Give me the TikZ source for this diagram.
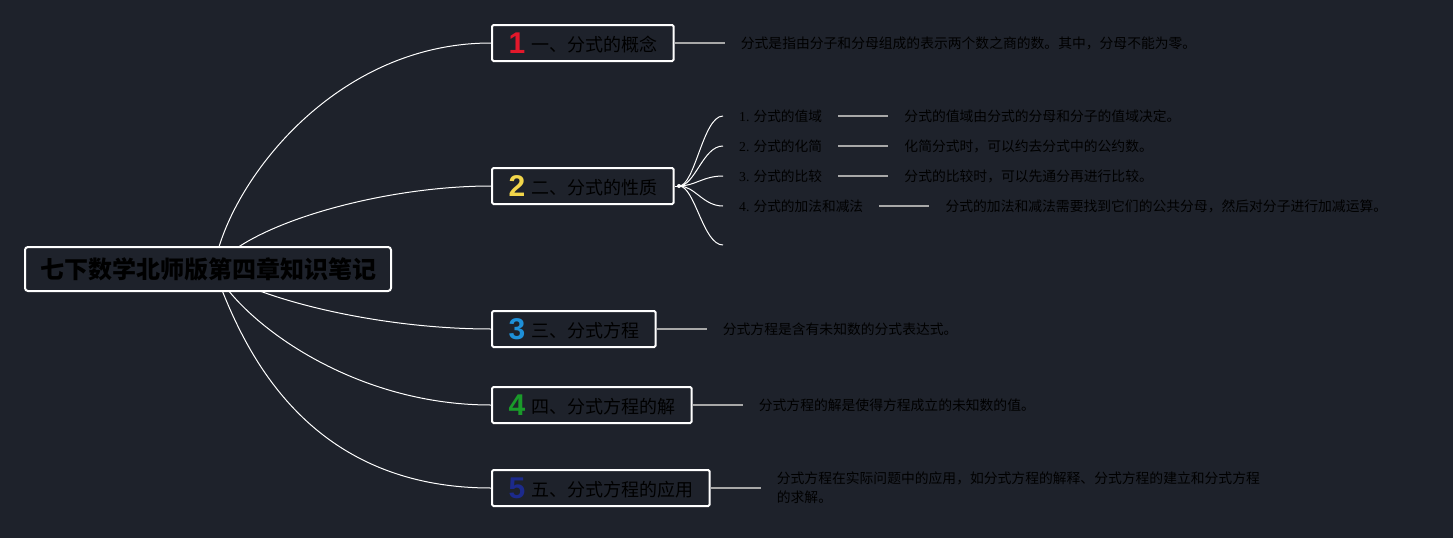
\documentclass[tikz,border=0pt]{standalone}
\usepackage{fontspec}
\setmainfont{Noto Sans CJK SC}
\newfontfamily\numfont{Liberation Sans}
\newfontfamily\serfont{Liberation Serif}
\usetikzlibrary{backgrounds,calc}
\definecolor{bg}{HTML}{1E222B}
\definecolor{numred}{HTML}{E3182B}
\definecolor{numyellow}{HTML}{F2D64B}
\definecolor{numblue}{HTML}{1E90D8}
\definecolor{numgreen}{HTML}{1A9A2A}
\definecolor{numnavy}{HTML}{1C2A8C}
\definecolor{leadgray}{HTML}{A8A8A8}
\newcommand\bignum[2]{\raisebox{-1.5pt}{\numfont\bfseries\fontsize{30}{30}\selectfont\color{#1}#2}\hspace{6pt}}
\newcommand\ser[1]{{\serfont #1}}
\tikzset{
  rootbox/.style={draw=white, line width=2pt, fill=bg, rounded corners=3pt, minimum width=366pt, minimum height=44pt, inner sep=0pt, text=black, font=\fontsize{24}{26}\selectfont\bfseries},
  topicbox/.style={draw=white, line width=2pt, fill=bg, rounded corners=1.5pt, minimum height=36pt, inner xsep=16.5pt, inner ysep=0pt, text=black, font=\fontsize{18}{20}\selectfont, anchor=west},
  conn/.style={draw=white, line width=1pt},
  lead/.style={draw=leadgray, line width=1.5pt},
  childtxt/.style={inner xsep=16pt, inner ysep=0pt, text=black, font=\fontsize{13.7}{15}\selectfont, anchor=west},
  desctxt/.style={inner xsep=16pt, inner ysep=0pt, text=black, font=\fontsize{13.8}{19}\selectfont, anchor=west, align=left},
}
\begin{document}
\begin{tikzpicture}[x=1pt,y=-1pt]
\useasboundingbox (0,0) rectangle (1453,538);
\begin{scope}[on background layer]
\fill[bg] (0,0) rectangle (1453,538);
\end{scope}

% root and topics
\node[rootbox] (root) at (208,269) {七下数学北师版第四章知识笔记};
\coordinate (hub) at (214,269);
\node[topicbox] (b1) at (491,43) {\bignum{numred}{1}一、分式的概念};
\node[topicbox] (b2) at (491,186) {\bignum{numyellow}{2}二、分式的性质};
\node[topicbox] (b3) at (491,329) {\bignum{numblue}{3}三、分式方程};
\node[topicbox] (b4) at (491,405) {\bignum{numgreen}{4}四、分式方程的解};
\node[topicbox] (b5) at (491,488) {\bignum{numnavy}{5}五、分式方程的应用};

\begin{scope}[on background layer]
\draw[conn] (hub) .. controls (225,190) and (330,43) .. (b1.west);
\draw[conn] (hub) .. controls (245,225) and (380,186) .. (b2.west);
\draw[conn] (hub) .. controls (260,300) and (380,329) .. (b3.west);
\draw[conn] (hub) .. controls (240,320) and (350,405) .. (b4.west);
\draw[conn] (hub) .. controls (240,340) and (300,488) .. (b5.west);
\end{scope}

% children of topic 2
\coordinate (h2) at (679,186);
\node[childtxt] (c1) at (723,116) {\ser{1.} 分式的值域};
\node[childtxt] (c2) at (723,146) {\ser{2.} 分式的化简};
\node[childtxt] (c3) at (723,176) {\ser{3.} 分式的比较};
\node[childtxt] (c4) at (723,206) {\ser{4.} 分式的加法和减法};
\coordinate (c5) at (723,245);
\draw[conn] (b2.east) -- (h2);
\foreach \c/\y in {c1/116,c2/146,c3/176,c4/206,c5/245}{
  \draw[conn] (h2) .. controls (695,186) and (703,\y) .. (\c.west);
}
\fill[white] (h2) circle (2pt);

% descriptions of children
\node[desctxt] (d21) at ($(c1.east)+(50,0)$) {分式的值域由分式的分母和分子的值域决定。};
\node[desctxt] (d22) at ($(c2.east)+(50,0)$) {化简分式时，可以约去分式中的公约数。};
\node[desctxt] (d23) at ($(c3.east)+(50,0)$) {分式的比较时，可以先通分再进行比较。};
\node[desctxt] (d24) at ($(c4.east)+(50,0)$) {分式的加法和减法需要找到它们的公共分母，然后对分子进行加减运算。};
\draw[lead] (c1.east) -- (d21.west);
\draw[lead] (c2.east) -- (d22.west);
\draw[lead] (c3.east) -- (d23.west);
\draw[lead] (c4.east) -- (d24.west);

% descriptions of topics
\node[desctxt] (d1) at ($(b1.east)+(50,0)$) {分式是指由分子和分母组成的表示两个数之商的数。其中，分母不能为零。};
\node[desctxt] (d3) at ($(b3.east)+(50,0)$) {分式方程是含有未知数的分式表达式。};
\node[desctxt] (d4) at ($(b4.east)+(50,0)$) {分式方程的解是使得方程成立的未知数的值。};
\node[desctxt] (d5) at ($(b5.east)+(50,0)$) {分式方程在实际问题中的应用，如分式方程的解释、分式方程的建立和分式方程\\的求解。};
\draw[lead] (b1.east) -- (d1.west);
\draw[lead] (b3.east) -- (d3.west);
\draw[lead] (b4.east) -- (d4.west);
\draw[lead] (b5.east) -- (d5.west);
\end{tikzpicture}
\end{document}
